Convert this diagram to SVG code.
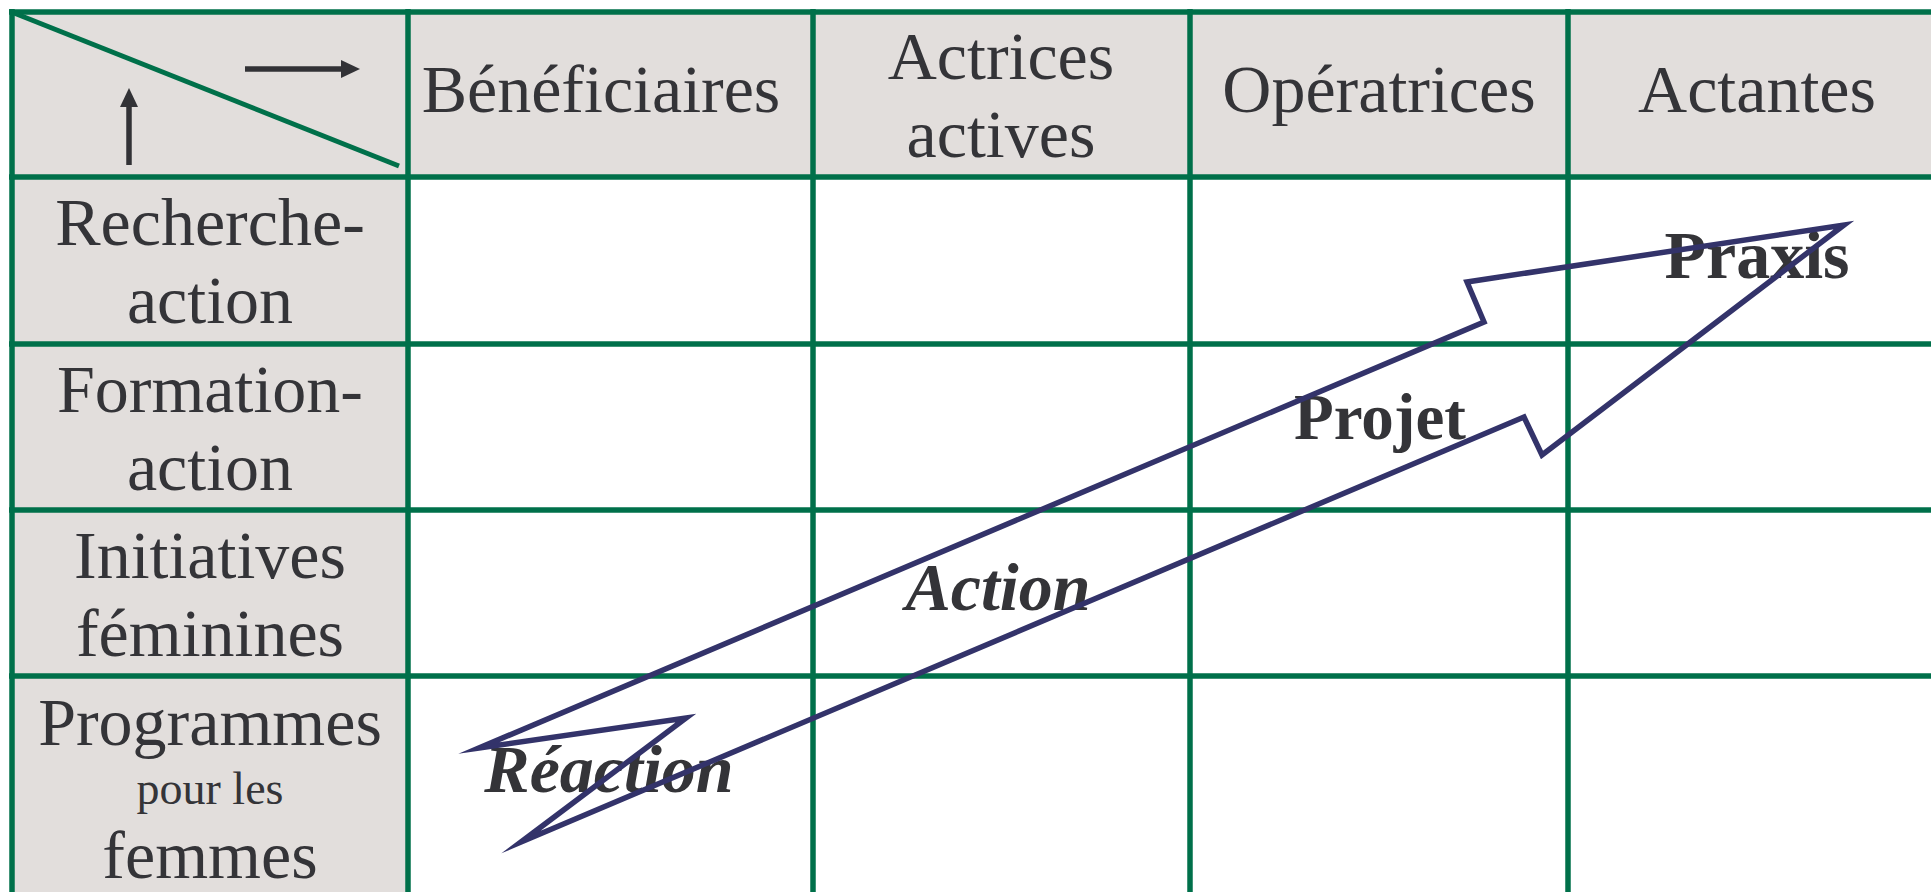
<svg xmlns="http://www.w3.org/2000/svg" width="1931" height="892" viewBox="0 0 1931 892">
  <defs>
    <style>
      .hdr { fill: #e2dedc; }
      .grid { stroke: #00704a; stroke-width: 5.5; fill: none; }
      .lbl { font-family: "Liberation Serif", "Times New Roman", serif; font-size: 68px; fill: #343438; text-anchor: middle; }
      .small { font-size: 46px; }
      .stage { font-family: "Liberation Serif", "Times New Roman", serif; font-weight: bold; fill: #343438; text-anchor: middle; }
      .ital { font-style: italic; }
      .dark { fill: #323236; }
      .bolt { fill: none; stroke: #33336a; stroke-width: 5.5; stroke-linejoin: miter; stroke-miterlimit: 20; }
    </style>
  </defs>

  <rect width="1931" height="892" fill="#ffffff"/>

  <!-- shaded header row and first column -->
  <rect class="hdr" x="12" y="12" width="1919" height="165"/>
  <rect class="hdr" x="12" y="177" width="396" height="715"/>

  <!-- table rules -->
  <g id="grid" class="grid">
    <line x1="9" y1="12" x2="1931" y2="12"/>
    <line x1="9" y1="177" x2="1931" y2="177"/>
    <line x1="9" y1="344" x2="1931" y2="344"/>
    <line x1="9" y1="510" x2="1931" y2="510"/>
    <line x1="9" y1="676" x2="1931" y2="676"/>
    <line x1="12" y1="9" x2="12" y2="892"/>
    <line x1="408" y1="9" x2="408" y2="892"/>
    <line x1="813" y1="9" x2="813" y2="892"/>
    <line x1="1190" y1="9" x2="1190" y2="892"/>
    <line x1="1568" y1="9" x2="1568" y2="892"/>
  </g>

  <!-- corner cell: split by diagonal, axis arrows -->
  <g id="corner">
    <line x1="14" y1="13" x2="399" y2="166" stroke="#00704a" stroke-width="5"/>
    <line x1="245" y1="69" x2="343" y2="69" stroke="#323236" stroke-width="5.5"/>
    <polygon class="dark" points="341,60 360,69 341,78"/>
    <line x1="129" y1="165" x2="129" y2="105" stroke="#323236" stroke-width="5.5"/>
    <polygon class="dark" points="120,107 129,88 138,107"/>
  </g>

  <!-- column headers -->
  <g id="col-beneficiaires"><text class="lbl" x="601" y="112">Bénéficiaires</text></g>
  <g id="col-actrices">
    <text class="lbl" x="1001" y="79">Actrices</text>
    <text class="lbl" x="1001" y="157">actives</text>
  </g>
  <g id="col-operatrices"><text class="lbl" x="1379" y="112">Opératrices</text></g>
  <g id="col-actantes"><text class="lbl" x="1757" y="112">Actantes</text></g>

  <!-- row headers -->
  <g id="row-recherche">
    <text class="lbl" x="210" y="245">Recherche-</text>
    <text class="lbl" x="210" y="323">action</text>
  </g>
  <g id="row-formation">
    <text class="lbl" x="210" y="412">Formation-</text>
    <text class="lbl" x="210" y="490">action</text>
  </g>
  <g id="row-initiatives">
    <text class="lbl" x="210" y="578">Initiatives</text>
    <text class="lbl" x="210" y="656">féminines</text>
  </g>
  <g id="row-programmes">
    <text class="lbl" x="210" y="745">Programmes</text>
    <text class="lbl small" x="210" y="804">pour les</text>
    <text class="lbl" x="210" y="878">femmes</text>
  </g>

  <!-- stage labels -->
  <g id="stage-reaction"><text class="stage ital" x="609" y="792" font-size="68">Réaction</text></g>
  <g id="stage-action"><text class="stage ital" x="998" y="610" font-size="68">Action</text></g>
  <g id="stage-projet"><text class="stage" x="1380" y="439" font-size="65">Projet</text></g>
  <g id="stage-praxis"><text class="stage" x="1757" y="278" font-size="68">Praxis</text></g>

  <!-- zigzag progression arrow -->
  <g id="connectors">
    <polygon class="bolt" points="479,748 686,718 521,842 1524,417 1542,455 1844,225 1467,282 1484,322"/>
  </g>
</svg>
